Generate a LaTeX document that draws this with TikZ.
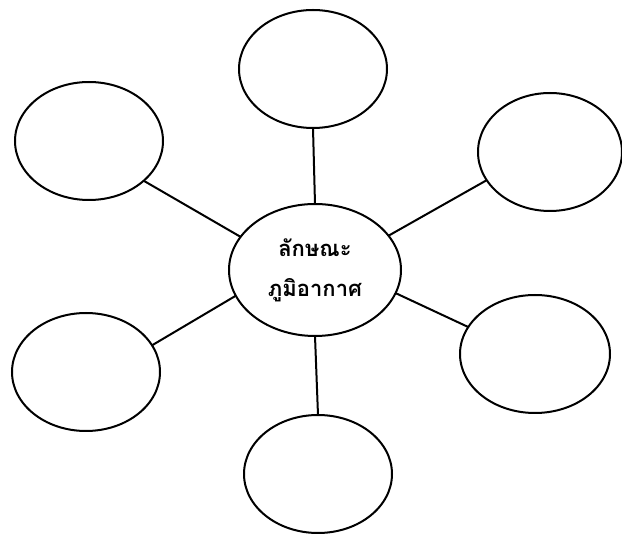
\documentclass[tikz,border=0pt]{standalone}
\usepackage{fontspec}
\newfontfamily\thaifont[Script=Thai]{Loma}
\usetikzlibrary{shapes.geometric}
\begin{document}
\begin{tikzpicture}[x=1pt,y=-1pt,
  bubble/.style={ellipse,draw,line width=2pt,inner sep=0pt,outer sep=0pt,
    minimum width=148pt,minimum height=118pt},
  hub/.style={ellipse,draw,line width=2pt,inner sep=0pt,outer sep=0pt,
    minimum width=172pt,minimum height=132pt,align=center,
    font=\thaifont\bfseries\fontsize{22}{40}\selectfont},
  link/.style={line width=2pt}]
\useasboundingbox[fill=white] (0,0) rectangle (622,534);
\node[hub] (C) at (315,270) {ลักษณะ\\ภูมิอากาศ};
\node[bubble] (T) at (313,69) {};
\node[bubble] (UL) at (89,141) {};
\node[bubble,minimum width=144pt] (UR) at (550,152) {};
\node[bubble] (LL) at (86,372) {};
\node[bubble,minimum width=150pt] (LR) at (535,354) {};
\node[bubble] (B) at (318,474) {};
\draw[link] (C.north) -- (T.south);
\draw[link] (C.156) -- (UL.324);
\draw[link] (C.25) -- (UR.204);
\draw[link] (C.198) -- (LL.22);
\draw[link] (C.344) -- (LR.158);
\draw[link] (C.south) -- (B.north);
\end{tikzpicture}
\end{document}
